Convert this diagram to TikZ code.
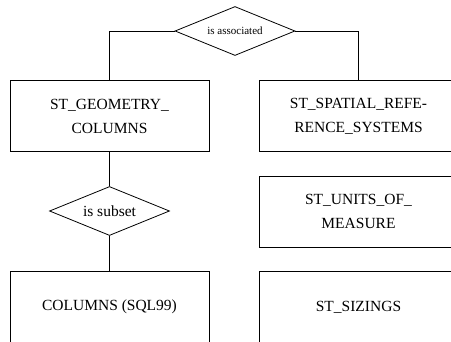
\documentclass[tikz,border=0pt]{standalone}
\usepackage{fontspec}
\setmainfont{Liberation Serif}
\usetikzlibrary{shapes.geometric}
\tikzset{
  entity/.style={draw, line width=0.8pt, minimum width=199pt, minimum height=71pt,
    align=center, inner sep=0pt, font=\fontsize{15.5}{24}\selectfont},
  relation/.style={draw, diamond, aspect=2.4, line width=0.8pt, inner sep=0pt,
    minimum width=120pt, minimum height=49pt},
}

\begin{document}
\begin{tikzpicture}[x=1pt, y=-1pt]
  \clip (0,0) rectangle (451,341);
  \fill[white] (0,0) rectangle (451,341);
  % Entities
  \node[entity] (geom) at (109.5, 116) {ST\_GEOMETRY\_\\COLUMNS};
  \node[entity] (srs) at (358.5, 116) {ST\_SPATIAL\_REFE-\\RENCE\_SYSTEMS};
  \node[entity] (units) at (358.5, 211.7) {ST\_UNITS\_OF\_\\MEASURE};
  \node[entity] (cols) at (109.5, 307.2) {COLUMNS (SQL99)};
  \node[entity] (sizings) at (358.5, 307.2) {ST\_SIZINGS};
  % Relations
  \node[relation, font=\fontsize{11}{13}\selectfont] (assoc) at (235, 31) {is associated};
  \node[relation, font=\fontsize{15.5}{18}\selectfont] (subset) at (109.5, 211) {is subset};
  % Links
  \draw[line width=0.8pt] (assoc.west) -| (geom.north);
  \draw[line width=0.8pt] (assoc.east) -| (srs.north);
  \draw[line width=0.8pt] (geom.south) -- (subset.north);
  \draw[line width=0.8pt] (subset.south) -- (cols.north);
\end{tikzpicture}
\end{document}
